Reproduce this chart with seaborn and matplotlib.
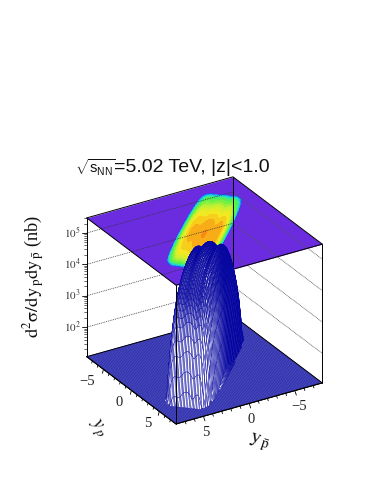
import numpy as np
import matplotlib
matplotlib.use("Agg")
import matplotlib.pyplot as plt
import matplotlib.tri as mtri
from matplotlib.lines import Line2D
from matplotlib.transforms import IdentityTransform
from mpl_toolkits.mplot3d import proj3d
import seaborn as sns

# ---- values (log10 of the cross section) ----
z_floor = 1.06
z_top = 5.48
peak_log10 = 5.02
axis_limit = 8.0
# drop of log10(sigma) across the ridge, y_p - y_pbar direction, steps of 0.1
across_drop = [-5, -4.5, -3.8, -2.9, -2.0, -1.4, -.95, -.62, -.4, -.27, -.2, -.19, -.2,
               -.22, -.2, -.15, -.08, -.03, -.01, 0, -.03, -.08, -.16, -.22, -.16, -.09,
               -.05, -.08, -.22, -.45, -.75, -1.2, -1.8, -2.7, -3.7, -4.5, -5]
# drop of log10(sigma) along the ridge, y_p + y_pbar direction, steps of 0.2
along_drop = [-5, -4.3, -3.6, -3.0, -2.5, -2.1, -1.85, -1.65, -1.5, -1.35, -1.2, -1.07, -.95, -.84,
              -.74, -.64, -.55, -.47, -.4, -.33, -.27, -.22, -.17, -.13, -.1, -.07, -.05, -.03,
              -.02, -.01, 0, 0, 0, -.01, -.02, -.03, -.05, -.07, -.09, -.12, -.15,
              -.19, -.23, -.28, -.34, -.41, -.49, -.58, -.7, -.84, -1.0, -1.2, -1.45, -1.85,
              -2.3, -2.9, -3.5, -4.2, -5]
z_major = [2, 3, 4, 5]
rap_major = [-5, 0, 5]
rap_minor = [-7, -6, -4, -3, -2, -1, 1, 2, 3, 4, 6, 7]

sns.set_theme(style="white", rc={"font.family": ["Liberation Sans", "DejaVu Sans"]})
plt.rcParams.update({"mathtext.fontset": "custom", "mathtext.rm": "Liberation Sans",
                     "mathtext.it": "Liberation Sans:italic", "mathtext.bf": "Liberation Sans:bold"})
W, H = 374, 484
fig = plt.figure(figsize=(W / 100, H / 100), dpi=100, facecolor="white")
ax = fig.add_axes([0.1, 0.1, 0.6, 0.6 * W / H * 1.0], projection="3d", proj_type="ortho",
                  computed_zorder=False)
ax.view_init(elev=27.4, azim=58.6)
ax.set_box_aspect((171, 171, 156))
ax.set_axis_off()

PURPLE = "#6b2ce0"
rainbow = sns.blend_palette([PURPLE, "#2a3cf0", "#18b8f0", "#30e8b0", "#50f050", "#80f040",
                             "#d0f030", "#f8e820", "#f8a818", "#f86010"], as_cmap=True)

along = np.array(along_drop)
across = np.array(across_drop)
s = np.arange(len(along)) * 0.2 - 5.8
d = np.arange(len(across)) * 0.1 - 1.8
S, D = np.meshgrid(s, d, indexing="ij")
Yp = S + D
Xb = S - D
Z = np.clip(peak_log10 + along[:, None] + across[None, :], z_floor, None)

a = axis_limit
cx = np.array([[a, -a], [a, -a]])
cy = np.array([[-a, -a], [a, a]])
# floor
n = np.linspace(-a, a, 121)
FX, FY = np.meshgrid(n, n)
ax.plot_surface(FX, FY, np.full_like(FX, z_floor), rstride=1, cstride=1, color="#7070e0",
                edgecolor="#14149a", linewidth=0.2, shade=False, zorder=1)
# top plane
ax.plot_surface(cx, cy, np.full_like(cx, z_top), color=PURPLE, shade=False, linewidth=0, zorder=2)
tri = mtri.Triangulation(Xb.ravel(), Yp.ravel())
levels = np.arange(1.5, 5.3, 0.25)
cs = ax.tricontourf(tri, Z.ravel(), levels=levels, cmap=rainbow, vmin=z_floor, vmax=5.4,
                    zdir="z", offset=z_top)
cs.set_zorder(2.5)


def line3(xs, ys, zs, z=3, **kw):
    kw.setdefault("color", "black")
    kw.setdefault("lw", 0.7)
    ax.plot(xs, ys, zs, zorder=z, **kw)


# wall gridlines
for zv in z_major:
    line3([a, -a], [-a, -a], [zv, zv], z=3, color="#333333", lw=0.55, ls=(0, (1.2, 1.2)))
    line3([-a, -a], [-a, a], [zv, zv], z=3, color="#555555", lw=0.55, ls=(0, (1.2, 0.8)))
# edges
for (x0, y0) in [(a, -a), (-a, -a), (-a, a)]:
    line3([x0, x0], [y0, y0], [z_floor, z_top], z=3)
for zv in (z_floor, z_top):
    line3([a, -a, -a], [-a, -a, a], [zv, zv, zv], z=3)
    line3([a, a, -a], [-a, a, a], [zv, zv, zv], z=3)

# ridge, one strip at a time from the back to the front
EDGE = matplotlib.colors.to_rgb("#0606a0")
for i in range(len(s) - 1):
    zs = Z[i:i + 2]
    cell_z = 0.25 * (zs[0, :-1] + zs[1, :-1] + zs[0, 1:] + zs[1, 1:])[None, :]
    on_floor = cell_z <= z_floor + 0.02
    face = np.ones(cell_z.shape + (4,))
    face[..., 3] = np.where(on_floor, 0.0, np.clip((4.6 - cell_z) / 1.6, 0.25, 1.0))
    edge = np.zeros(cell_z.shape + (4,))
    edge[..., :3] = EDGE
    edge[..., 3] = np.where(on_floor, 0.0, 1.0)
    strip_lw = np.interp(s[i], [-5, -0.5, 2.5, 5], [0.7, 0.6, 0.3, 0.28])
    surf = ax.plot_surface(Xb[i:i + 2], Yp[i:i + 2], zs, rstride=1, cstride=1, facecolors=face,
                           edgecolor="#0606a0", linewidth=strip_lw, shade=False, zorder=4 + i * 0.001)
    surf.set_edgecolor(edge.reshape(-1, 4))
line3([a, a], [a, a], [z_floor, z_top], z=5)
line3([a, a, -a], [-a, a, a], [z_floor] * 3, z=5)

ax.set_xlim(-a, a)
ax.set_ylim(-a, a)
ax.set_zlim(z_floor, z_top)


def P(x, y, z):
    X, Y, _ = proj3d.proj_transform(x, y, z, ax.get_proj())
    return ax.transData.transform((X, Y))


# place the 3D box on the figure
target_F = np.array([176.0, H - 424.0])
target_R = np.array([322.0, H - 382.0])
ax.apply_aspect()
size0 = 0.6 * W
scale = np.linalg.norm(target_R - target_F) / np.linalg.norm(P(-a, a, z_floor) - P(a, a, z_floor))
size = size0 * scale
ax.set_position([0.1, 0.1, size / W, size / H])
ax.apply_aspect()
shift = target_F - P(a, a, z_floor)
ax.set_position([0.1 + shift[0] / W, 0.1 + shift[1] / H, size / W, size / H])
ax.apply_aspect()

px = IdentityTransform()


def tick(p, dv, lw=0.6):
    fig.add_artist(Line2D([p[0], p[0] + dv[0]], [p[1], p[1] + dv[1]], transform=px,
                          color="black", lw=lw, zorder=6))


def label(p, txt, **kw):
    fig.text(p[0] / W, p[1] / H, txt, ha="center", va="center", family="Liberation Serif",
             color="#222222", **kw)


# rapidity axes
for v in rap_major + rap_minor:
    m = 1.0 if v in rap_major else 0.55
    tick(P(a, v, z_floor), (-1.0 * m, -4.0 * m))
    tick(P(v, a, z_floor), (1.5 * m, -4.5 * m))
for v in rap_major:
    p = P(a, v, z_floor)
    label((p[0] - 12 - (4 if v < 0 else 0), p[1] - 12), "\u2212%d" % abs(v) if v < 0 else "%d" % v, fontsize=10.5)
    p = P(v, a, z_floor)
    label((p[0] + 2 + (2 if v < 0 else 0), p[1] - 16), "\u2212%d" % abs(v) if v < 0 else "%d" % v, fontsize=10.5)

# z axis
for zv in z_major:
    p = P(a, -a, zv)
    tick(p, (-5, 0))
    fig.text((p[0] - 6) / W, p[1] / H, r"$10^{%d}$" % zv, ha="right", va="center",
             math_fontfamily="stix", fontsize=8, color="#333333")
for dec in (1, 2, 3, 4, 5):
    for k in (2, 3, 4, 5, 6, 7, 8, 9):
        zv = dec + np.log10(k)
        if z_floor <= zv <= z_top:
            tick(P(a, -a, zv), (-2.5, 0), lw=0.4)

fig.text(75 / W, (H - 168) / H, r"$\sqrt{\mathrm{s}_{\mathrm{NN}}}$",
         ha="left", va="center", fontsize=10.6, color="#111111", math_fontfamily="custom")
fig.text(114 / W, (H - 168) / H, "=5.02 TeV, |z|<1.0",
         ha="left", va="center", fontsize=14, color="#111111")
fig.text(34 / W, (H - 276) / H,
         r"$\mathrm{d}^{2}\mathrm{\sigma}/\mathrm{dy}_{\,\mathrm{p}}\mathrm{dy}_{\,\bar{\mathrm{p}}}$ (nb)",
         rotation=90, ha="center", va="center", fontsize=13.2, math_fontfamily="stix", color="#111111",
         family="Liberation Serif")
fig.text(97 / W, (H - 429) / H, r"$y_{\,p}$", rotation=-60, ha="center", va="center", fontsize=14,
         math_fontfamily="stix", color="#111111")
fig.text(259 / W, (H - 442) / H, r"$\mathrm{y}_{\,\bar{\mathrm{p}}}$", rotation=-18, ha="center", va="center",
         fontsize=14.5, math_fontfamily="stix", color="#111111")

fig.savefig("out.png", dpi=100, facecolor="white")
